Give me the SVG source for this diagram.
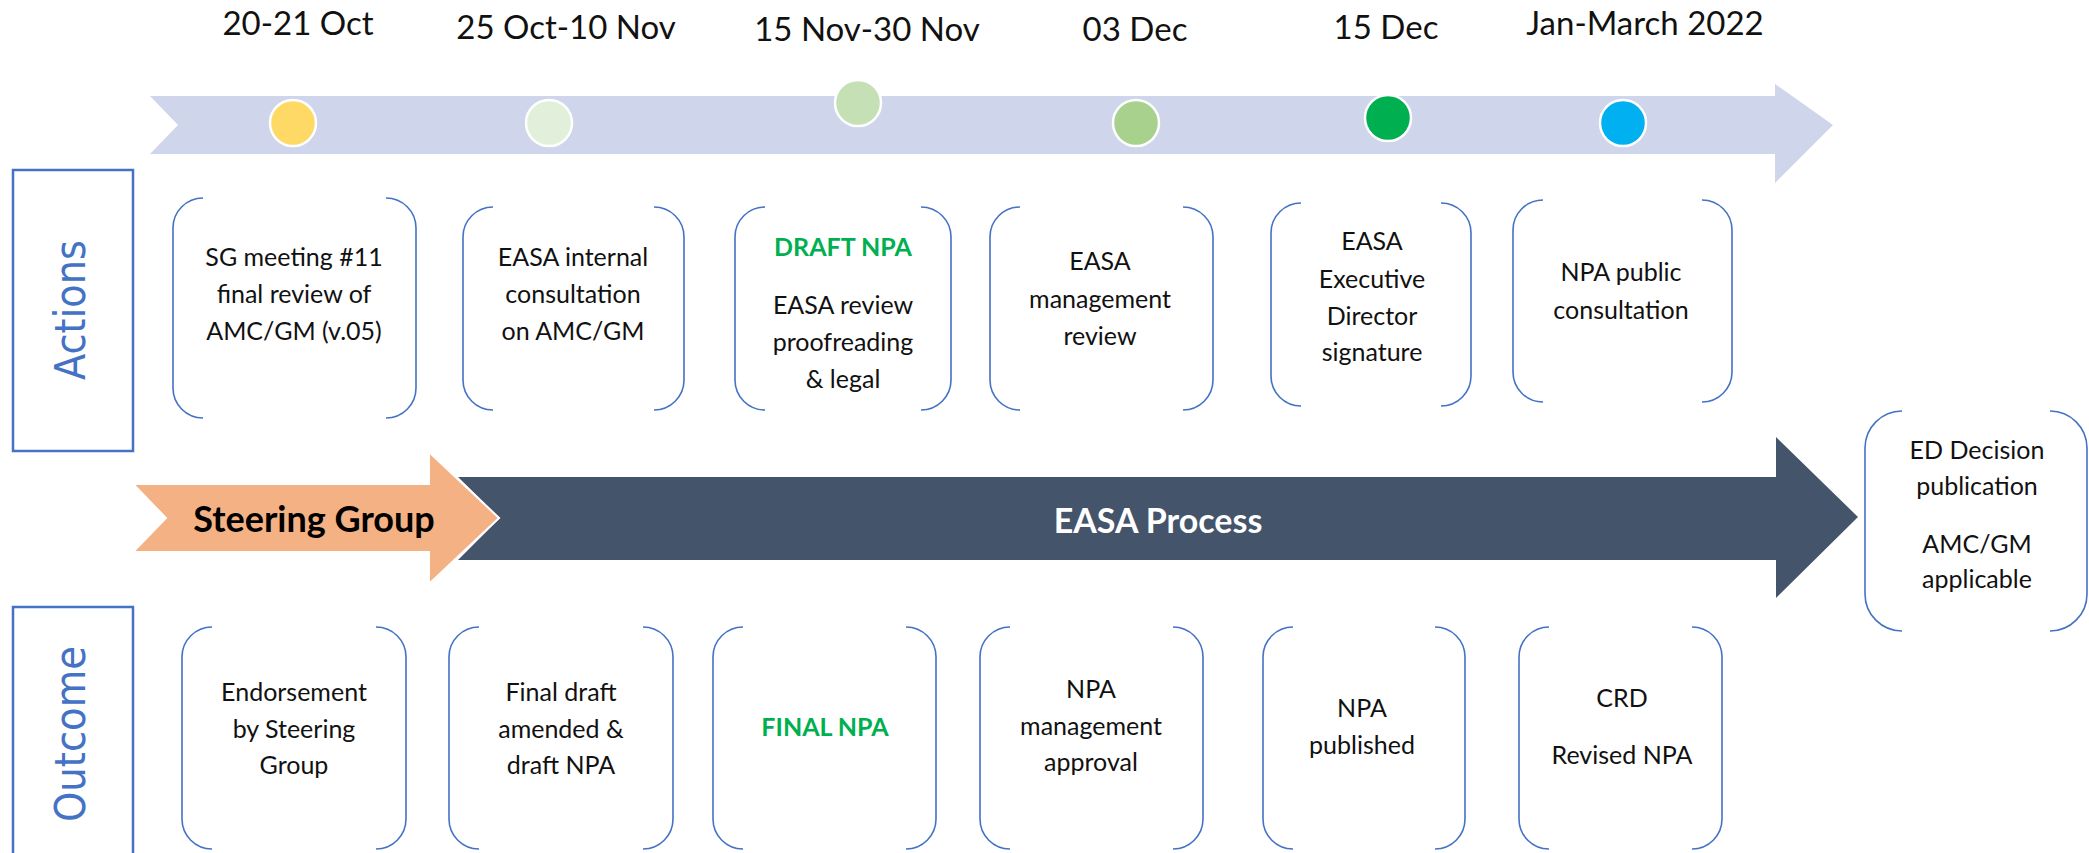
<svg xmlns="http://www.w3.org/2000/svg" width="2089" height="853" viewBox="0 0 2089 853">
<style>
.t{font-family:Lato,'Open Sans','Liberation Sans',sans-serif;fill:#111;text-anchor:middle}
.d{font-size:33px}
.b{font-size:25px}
.g{fill:#00B050;font-weight:bold}
.br{fill:none;stroke:#4472C4;stroke-width:1.6}
.side{fill:none;stroke:#4472C4;stroke-width:2.5}
.vt{font-family:'DejaVu Sans',sans-serif;font-size:42px;fill:#4472C4;text-anchor:middle}
.dot{stroke:#fff;stroke-width:2.5}
</style>
<rect width="2089" height="853" fill="#fff"/>

<g id="dates">
<text class="t d" x="298" y="35">20-21 Oct</text>
<text class="t d" x="566" y="39">25 Oct-10 Nov</text>
<text class="t d" x="867" y="41">15 Nov-30 Nov</text>
<text class="t d" x="1135" y="41">03 Dec</text>
<text class="t d" x="1386" y="39">15 Dec</text>
<text class="t d" x="1645" y="35">Jan-March 2022</text>
</g>

<g id="timeline">
<path d="M150 96 H1775 V84 L1833 125 L1775 183 V154 H150 L178 125 Z" fill="#CFD5EA"/>
<circle class="dot" cx="293" cy="123" r="23" fill="#FFD966"/>
<circle class="dot" cx="549" cy="123" r="23" fill="#E2EFDA"/>
<circle class="dot" cx="858" cy="103" r="23" fill="#C5E0B4"/>
<circle class="dot" cx="1136" cy="123" r="23" fill="#A9D18E"/>
<circle class="dot" cx="1388" cy="118" r="23" fill="#00B050"/>
<circle class="dot" cx="1623" cy="123" r="23" fill="#00B0F0"/>
</g>

<g id="actions-label">
<rect class="side" x="13" y="170" width="120" height="281"/>
<text class="vt" transform="translate(85 310) rotate(-90)" x="0" y="0" textLength="140" lengthAdjust="spacingAndGlyphs">Actions</text>
</g>
<g id="outcome-label">
<rect class="side" x="13" y="607" width="120" height="270"/>
<text class="vt" transform="translate(85 734) rotate(-90)" x="0" y="0" textLength="176" lengthAdjust="spacingAndGlyphs">Outcome</text>
</g>

<g id="easa-process">
<path d="M458 477 H1776 V437 L1858 517 L1776 598 V560 H458 L500 518 Z" fill="#44546A"/>
<text class="t" x="1158" y="533" style="font-size:34px;font-weight:bold;fill:#fff">EASA Process</text>
</g>
<g id="steering-group">
<path d="M133 484 H429 V452 L499 518 L429 584 V552 H133 L166 518 Z" fill="#F4B183" stroke="#fff" stroke-width="2"/>
<text class="t" x="314" y="532" style="font-size:36px;font-weight:bold;fill:#000">Steering Group</text>
</g>

<g id="action1">
<path class="br" d="M203 198 A30 30 0 0 0 173 228 V388 A30 30 0 0 0 203 418 M386 198 A30 30 0 0 1 416 228 V388 A30 30 0 0 1 386 418"/>
<text class="t b" x="294" y="266">SG meeting #11</text>
<text class="t b" x="294" y="303">final review of</text>
<text class="t b" x="294" y="340">AMC/GM (v.05)</text>
</g>
<g id="action2">
<path class="br" d="M493 207 A30 30 0 0 0 463 237 V380 A30 30 0 0 0 493 410 M654 207 A30 30 0 0 1 684 237 V380 A30 30 0 0 1 654 410"/>
<text class="t b" x="573" y="266">EASA internal</text>
<text class="t b" x="573" y="303">consultation</text>
<text class="t b" x="573" y="340">on AMC/GM</text>
</g>
<g id="action3">
<path class="br" d="M765 207 A30 30 0 0 0 735 237 V380 A30 30 0 0 0 765 410 M921 207 A30 30 0 0 1 951 237 V380 A30 30 0 0 1 921 410"/>
<text class="t b g" x="843" y="256">DRAFT NPA</text>
<text class="t b" x="843" y="314">EASA review</text>
<text class="t b" x="843" y="351">proofreading</text>
<text class="t b" x="843" y="388">&amp; legal</text>
</g>
<g id="action4">
<path class="br" d="M1020 207 A30 30 0 0 0 990 237 V380 A30 30 0 0 0 1020 410 M1183 207 A30 30 0 0 1 1213 237 V380 A30 30 0 0 1 1183 410"/>
<text class="t b" x="1100" y="270">EASA</text>
<text class="t b" x="1100" y="308">management</text>
<text class="t b" x="1100" y="345">review</text>
</g>
<g id="action5">
<path class="br" d="M1301 203 A30 30 0 0 0 1271 233 V376 A30 30 0 0 0 1301 406 M1441 203 A30 30 0 0 1 1471 233 V376 A30 30 0 0 1 1441 406"/>
<text class="t b" x="1372" y="250">EASA</text>
<text class="t b" x="1372" y="288">Executive</text>
<text class="t b" x="1372" y="325">Director</text>
<text class="t b" x="1372" y="361">signature</text>
</g>
<g id="action6">
<path class="br" d="M1543 200 A30 30 0 0 0 1513 230 V372 A30 30 0 0 0 1543 402 M1702 200 A30 30 0 0 1 1732 230 V372 A30 30 0 0 1 1702 402"/>
<text class="t b" x="1621" y="281">NPA public</text>
<text class="t b" x="1621" y="319">consultation</text>
</g>

<g id="ed-decision">
<path class="br" d="M1902 411 A37 37 0 0 0 1865 448 V594 A37 37 0 0 0 1902 631 M2050 411 A37 37 0 0 1 2087 448 V594 A37 37 0 0 1 2050 631"/>
<text class="t b" x="1977" y="459">ED Decision</text>
<text class="t b" x="1977" y="495">publication</text>
<text class="t b" x="1977" y="553">AMC/GM</text>
<text class="t b" x="1977" y="588">applicable</text>
</g>

<g id="outcome1">
<path class="br" d="M212 627 A30 30 0 0 0 182 657 V819 A30 30 0 0 0 212 849 M376 627 A30 30 0 0 1 406 657 V819 A30 30 0 0 1 376 849"/>
<text class="t b" x="294" y="701">Endorsement</text>
<text class="t b" x="294" y="738">by Steering</text>
<text class="t b" x="294" y="774">Group</text>
</g>
<g id="outcome2">
<path class="br" d="M479 627 A30 30 0 0 0 449 657 V819 A30 30 0 0 0 479 849 M643 627 A30 30 0 0 1 673 657 V819 A30 30 0 0 1 643 849"/>
<text class="t b" x="561" y="701">Final draft</text>
<text class="t b" x="561" y="738">amended &amp;</text>
<text class="t b" x="561" y="774">draft NPA</text>
</g>
<g id="outcome3">
<path class="br" d="M743 627 A30 30 0 0 0 713 657 V819 A30 30 0 0 0 743 849 M906 627 A30 30 0 0 1 936 657 V819 A30 30 0 0 1 906 849"/>
<text class="t b g" x="825" y="736">FINAL NPA</text>
</g>
<g id="outcome4">
<path class="br" d="M1010 627 A30 30 0 0 0 980 657 V819 A30 30 0 0 0 1010 849 M1173 627 A30 30 0 0 1 1203 657 V819 A30 30 0 0 1 1173 849"/>
<text class="t b" x="1091" y="698">NPA</text>
<text class="t b" x="1091" y="735">management</text>
<text class="t b" x="1091" y="771">approval</text>
</g>
<g id="outcome5">
<path class="br" d="M1293 627 A30 30 0 0 0 1263 657 V819 A30 30 0 0 0 1293 849 M1435 627 A30 30 0 0 1 1465 657 V819 A30 30 0 0 1 1435 849"/>
<text class="t b" x="1362" y="717">NPA</text>
<text class="t b" x="1362" y="754">published</text>
</g>
<g id="outcome6">
<path class="br" d="M1549 627 A30 30 0 0 0 1519 657 V819 A30 30 0 0 0 1549 849 M1692 627 A30 30 0 0 1 1722 657 V819 A30 30 0 0 1 1692 849"/>
<text class="t b" x="1622" y="707">CRD</text>
<text class="t b" x="1622" y="764">Revised NPA</text>
</g>

<g id="connectors"></g>
</svg>
